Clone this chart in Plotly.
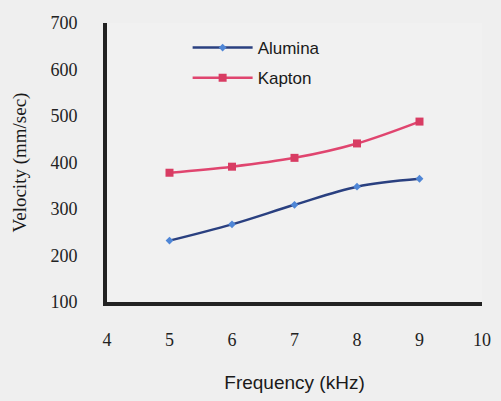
import plotly.graph_objects as go

# Wave velocity vs. drive frequency for two substrate materials
frequency_khz = [5, 6, 7, 8, 9]
alumina_velocity = [232, 267, 309, 348, 365]
kapton_velocity = [378, 391, 410, 441, 488]

x_ticks = [4, 5, 6, 7, 8, 9, 10]
y_ticks = [100, 200, 300, 400, 500, 600, 700]

serif = "Liberation Serif, Times New Roman, serif"
sans = "Liberation Sans, Arial, sans-serif"

fig = go.Figure()

fig.add_trace(go.Scatter(
    x=frequency_khz, y=alumina_velocity, name="Alumina",
    mode="lines+markers", line=dict(color="#2a4080", width=2.5, shape="spline"),
    marker=dict(symbol="diamond", size=6, color="#4f86d6"),
    legendgroup="a",
))
fig.add_trace(go.Scatter(
    x=frequency_khz, y=kapton_velocity, name="Kapton",
    mode="lines+markers", line=dict(color="#e0456f", width=2.5, shape="spline"),
    marker=dict(symbol="square", size=8, color="#d83c63"),
    legendgroup="k",
))

fig.update_layout(
    width=501, height=401,
    margin=dict(l=107, r=10, t=23, b=98),
    paper_bgcolor="#efefef",
    plot_bgcolor="#f1f1f1",
    showlegend=True,
    legend=dict(
        x=0.215, y=0.975, xanchor="left", yanchor="top",
        bgcolor="rgba(0,0,0,0)",
        font=dict(family=sans, size=17, color="#1a1a1a"),
        tracegroupgap=5,
        itemwidth=60,
    ),
    xaxis=dict(
        range=[4, 10], tickvals=x_ticks, showgrid=False, zeroline=False,
        showline=True, linecolor="#222222", linewidth=4,
        ticks="", ticklabelstandoff=18,
        tickfont=dict(family=serif, size=18, color="#222222"),
        title=dict(text="Frequency (kHz)", standoff=28,
                   font=dict(family=sans, size=19, color="#1a1a1a")),
    ),
    yaxis=dict(
        range=[100, 700], tickvals=y_ticks, showgrid=False, zeroline=False,
        showline=True, linecolor="#222222", linewidth=4,
        ticks="", ticklabelstandoff=22,
        tickfont=dict(family=serif, size=18, color="#222222"),
        title=dict(text="Velocity (mm/sec)", standoff=20,
                   font=dict(family=serif, size=19, color="#1a1a1a")),
    ),
)

fig.write_html("out.html")
